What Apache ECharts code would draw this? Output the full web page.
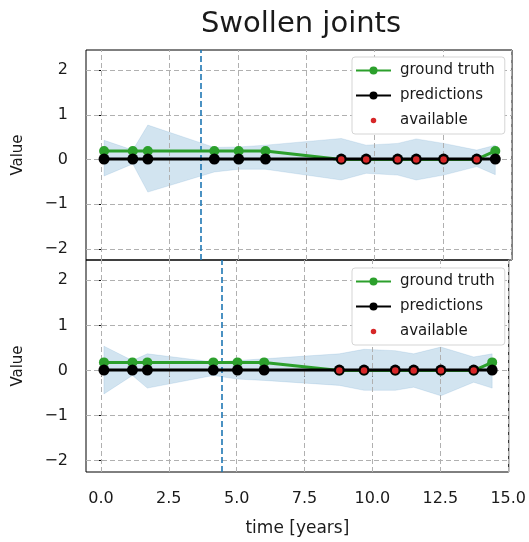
<!DOCTYPE html>
<html><head><meta charset="utf-8">
<script src="https://cdn.jsdelivr.net/npm/echarts@6/dist/echarts.min.js"></script>
<style>html,body{margin:0;padding:0;background:#fff}#c{width:529px;height:542px}</style>
</head><body><div id="c"></div>
<script>
// ---- data ----
const times = [0.11, 1.16, 1.71, 4.14, 5.03, 6.01, 8.78, 9.69, 10.84, 11.52, 12.52, 13.73, 14.41];
const xTicks = [0, 2.5, 5, 7.5, 10, 12.5, 15];
const yTicks = [-2, -1, 0, 1, 2];

const gtTop    = [0.19, 0.19, 0.19, 0.19, 0.19, 0.19, 0, 0, 0, 0, 0, 0, 0.19];
const predTop  = [0.01, 0.01, 0.01, 0.01, 0.01, 0.01, 0.01, 0.01, 0.01, 0.01, 0.01, 0.01, 0.01];
const upperTop = [0.43, 0.21, 0.77, 0.27, 0.28, 0.32, 0.47, 0.32, 0.36, 0.46, 0.36, 0.21, 0.32];
const lowerTop = [-0.37, -0.10, -0.73, -0.28, -0.22, -0.22, -0.46, -0.31, -0.35, -0.46, -0.35, -0.16, -0.34];
const cutoffTop = 3.63;

const gtBot    = [0.18, 0.18, 0.18, 0.18, 0.18, 0.18, 0, 0, 0, 0, 0, 0, 0.18];
const predBot  = [0.01, 0.01, 0.01, 0.01, 0.01, 0.01, 0.01, 0.01, 0.01, 0.01, 0.01, 0.01, 0.01];
const upperBot = [0.54, 0.22, 0.37, 0.19, 0.22, 0.26, 0.37, 0.47, 0.44, 0.37, 0.52, 0.30, 0.37];
const lowerBot = [-0.52, -0.11, -0.39, -0.11, -0.19, -0.22, -0.33, -0.44, -0.44, -0.37, -0.56, -0.26, -0.39];
const cutoffBot = 4.45;

const availTimes  = [8.78, 9.69, 10.84, 11.52, 12.52, 13.73];
const availValues = [0, 0, 0, 0, 0, 0];

// ---- chart ----
const FONT = 'DejaVu Sans';
const TXT = '#1a1a1a';
const chart = echarts.init(document.getElementById('c'), null, {renderer: 'canvas'});

function fmtY(v) { return v < 0 ? '\u2212' + Math.abs(v) : String(v); }

function panelSeries(i, gt, pred, upper, lower, cutoff) {
  const gridLines = xTicks.map(v => ({xAxis: v})).concat(yTicks.map(v => ({yAxis: v})));
  return [
    {
      type: 'custom', name: 'band', xAxisIndex: i, yAxisIndex: i, silent: true, z: 1, clip: true,
      data: times.map((t, k) => [t, lower[k], upper[k]]),
      encode: {x: 0, y: [1, 2]},
      renderItem: function (params, api) {
        if (params.dataIndex !== 0) return;
        const pts = [];
        for (let k = 0; k < times.length; k++) pts.push(api.coord([times[k], upper[k]]));
        for (let k = times.length - 1; k >= 0; k--) pts.push(api.coord([times[k], lower[k]]));
        return {type: 'polygon', shape: {points: pts},
          style: {fill: 'rgba(31,119,180,0.2)', stroke: 'rgba(31,119,180,0.12)', lineWidth: 1}};
      }
    },
    {
      type: 'line', name: 'ground truth', xAxisIndex: i, yAxisIndex: i,
      data: times.map((t, k) => [t, gt[k]]),
      symbol: 'circle', symbolSize: 10, z: 3,
      lineStyle: {color: '#2ca02c', width: 3},
      itemStyle: {color: '#2ca02c', borderWidth: 0},
      markLine: {
        silent: true, symbol: ['none', 'none'], animation: false, z: 2,
        label: {show: false},
        lineStyle: {color: '#b0b0b0', type: [5, 3], width: 1},
        data: gridLines
      }
    },
    {
      type: 'line', name: 'predictions', xAxisIndex: i, yAxisIndex: i,
      data: times.map((t, k) => [t, pred[k]]),
      symbol: 'circle', symbolSize: 11, z: 4,
      lineStyle: {color: '#000', width: 3},
      itemStyle: {color: '#000', borderWidth: 0},
      markLine: {
        silent: true, symbol: ['none', 'none'], animation: false, z: 2.5,
        label: {show: false},
        lineStyle: {color: '#1f77b4', type: [6, 3], width: 1.6},
        data: [{xAxis: cutoff}]
      }
    },
    {
      type: 'scatter', name: 'available', xAxisIndex: i, yAxisIndex: i,
      data: availTimes.map((t, k) => [t, availValues[k]]),
      symbol: 'circle', symbolSize: 6.5, z: 5,
      itemStyle: {color: '#d62728', opacity: 1, borderWidth: 0}
    }
  ];
}

function xAxis(i, showLabels) {
  return {
    type: 'value', gridIndex: i, min: -0.55, max: 15.02,
    axisLine: {show: false},
    splitLine: {show: false},
    axisTick: {show: showLabels, customValues: xTicks, length: 6, lineStyle: {color: '#000', width: 1}},
    axisLabel: {show: showLabels, customValues: xTicks, formatter: v => v.toFixed(1),
      color: TXT, fontFamily: FONT, fontSize: 16, margin: 19},
    name: showLabels ? 'time [years]' : '', nameLocation: 'middle', nameGap: 48,
    nameTextStyle: {color: TXT, fontFamily: FONT, fontSize: 17}
  };
}
function yAxis(i) {
  return {
    type: 'value', gridIndex: i, min: -2.25, max: 2.45,
    axisLine: {show: false},
    splitLine: {show: false},
    axisTick: {show: true, customValues: yTicks, length: 6, lineStyle: {color: '#000', width: 1}},
    axisLabel: {customValues: yTicks, formatter: fmtY, color: TXT, fontFamily: FONT, fontSize: 16, margin: 18},
    name: 'Value', nameLocation: 'middle', nameGap: 60, nameRotate: 90,
    nameTextStyle: {color: TXT, fontFamily: FONT, fontSize: 15}
  };
}
function legend(top) {
  return {
    left: 352, top: top, orient: 'vertical', itemGap: 10, itemWidth: 35, itemHeight: 10,
    backgroundColor: '#fff', borderColor: '#d5d5d5', borderWidth: 1, borderRadius: 3,
    padding: [6, 10, 6, 3], selectedMode: false,
    textStyle: {color: TXT, fontFamily: FONT, fontSize: 15, padding: [0, 0, 0, 4]},
    data: [
      {name: 'ground truth'},
      {name: 'predictions'},
      {name: 'available', itemStyle: {borderColor: '#fff', borderWidth: 4.5}}
    ]
  };
}

chart.setOption({
  animation: false,
  backgroundColor: '#fff',
  title: {text: 'Swollen joints', left: 296, textAlign: 'center', top: 5,
    textStyle: {fontFamily: FONT, fontSize: 29, fontWeight: 'normal', color: TXT}},
  grid: [
    {left: 86, top: 50, width: 426, height: 210, show: true, borderColor: '#000', borderWidth: 1, backgroundColor: 'transparent'},
    {left: 86, top: 260, width: 426, height: 212, show: true, borderColor: '#000', borderWidth: 1, backgroundColor: 'transparent'}
  ],
  xAxis: [xAxis(0, false), xAxis(1, true)],
  yAxis: [yAxis(0), yAxis(1)],
  legend: [legend(57), legend(268)],
  series: panelSeries(0, gtTop, predTop, upperTop, lowerTop, cutoffTop)
    .concat(panelSeries(1, gtBot, predBot, upperBot, lowerBot, cutoffBot))
});
</script>
</body></html>
